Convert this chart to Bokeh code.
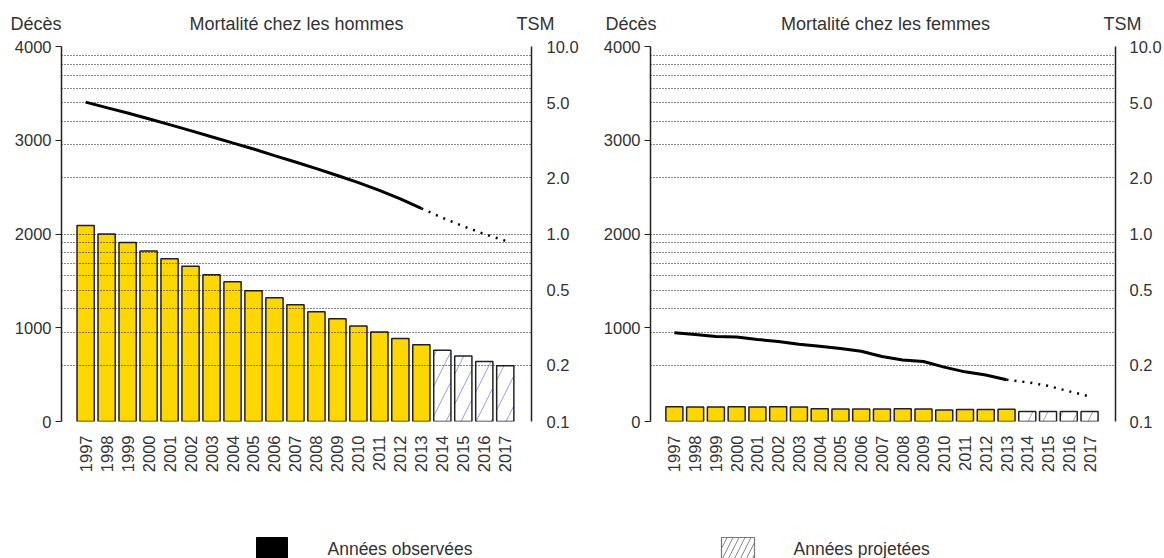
from bokeh.plotting import figure
from bokeh.models import (Range1d, LogScale, LogAxis, FixedTicker,
                          PrintfTickFormatter, Grid, ColumnDataSource)
from bokeh.layouts import column, row
from bokeh.embed import file_html
from bokeh.resources import INLINE
from bokeh.core.properties import value

# ---------------- data ----------------
years_obs = [1997, 1998, 1999, 2000, 2001, 2002, 2003, 2004, 2005, 2006, 2007,
             2008, 2009, 2010, 2011, 2012, 2013]
years_proj = [2014, 2015, 2016, 2017]
year_labels = ["1997", "1998", "1999", "2000", "2001", "2002", "2003", "2004",
               "2005", "2006", "2007", "2008", "2009", "2010", "2011", "2012",
               "2013", "2014", "2015", "2016", "2017"]

men_deaths_obs = [2090, 2000, 1910, 1820, 1735, 1655, 1565, 1490, 1395, 1320,
                  1245, 1170, 1095, 1020, 955, 885, 820]
men_deaths_proj = [760, 700, 640, 595]
men_tsm_obs = [5.05, 4.72, 4.42, 4.12, 3.83, 3.56, 3.30, 3.06, 2.84, 2.62,
               2.42, 2.23, 2.05, 1.88, 1.71, 1.54, 1.37]
men_tsm_proj = [1.22, 1.10, 1.00, 0.92]

women_deaths_obs = [157, 156, 156, 157, 156, 158, 156, 135, 133, 134, 134,
                    135, 134, 122, 128, 128, 130]
women_deaths_proj = [108, 107, 108, 107]
women_tsm_obs = [0.297, 0.291, 0.284, 0.282, 0.274, 0.267, 0.258, 0.252, 0.245,
                 0.237, 0.222, 0.213, 0.209, 0.195, 0.184, 0.177, 0.167]
women_tsm_proj = [0.162, 0.155, 0.145, 0.136]

death_ticks = [0, 1000, 2000, 3000, 4000]
tsm_ticks = [0.1, 0.2, 0.5, 1.0, 2.0, 5.0, 10.0]
grid_ticks = [0.1, 0.2, 0.3, 0.4, 0.5, 0.6, 0.7, 0.8, 0.9,
              1, 2, 3, 4, 5, 6, 7, 8, 9, 10]

titles = ["Mortalité chez les hommes", "Mortalité chez les femmes"]
left_header = "Décès"
right_header = "TSM"
legend_labels = ["Années observées", "Années projetées"]

FONT = "Liberation Sans"
TXT = "#333333"
GOLD = "#FFD700"
W, H = 1164, 558
HEAD_H, CHART_H, LEG_H = 36, 447, 75


def make_chart(d_obs, d_proj, t_obs, t_proj, width, left_border, right_border,
               right_standoff):
    p = figure(width=width, height=CHART_H,
               x_range=Range1d(1995.85, 2018.25), y_range=Range1d(0, 4000),
               output_backend="svg", toolbar_location=None,
               min_border_left=left_border, min_border_right=right_border,
               min_border_top=10, min_border_bottom=62)
    p.outline_line_color = None
    p.xgrid.visible = False
    p.ygrid.visible = False
    p.extra_y_ranges = {"tsm": Range1d(0.1, 10)}
    p.extra_y_scales = {"tsm": LogScale()}

    # bars
    src_o = ColumnDataSource(dict(x=years_obs, top=d_obs))
    src_p = ColumnDataSource(dict(x=years_proj, top=d_proj))
    p.vbar(x="x", top="top", bottom=0, width=0.82, source=src_o,
           fill_color=GOLD, line_color="#2a1f12", line_width=1.5)
    p.vbar(x="x", top="top", bottom=0, width=0.82, source=src_p,
           fill_color="white", line_color="#222222", line_width=1.5,
           hatch_pattern="/", hatch_color="#9f9ff0", hatch_scale=30,
           hatch_weight=1)

    # log grid on the TSM scale, drawn over the bars
    g = Grid(dimension=1, ticker=FixedTicker(ticks=grid_ticks),
             y_range_name="tsm", grid_line_color="#111111",
             grid_line_dash="1 2", grid_line_width=1, level="annotation")
    p.add_layout(g)

    # TSM lines
    p.line(x=years_obs, y=t_obs, y_range_name="tsm", line_color="black",
           line_width=3)
    p.line(x=[years_obs[-1]] + years_proj, y=[t_obs[-1]] + t_proj,
           y_range_name="tsm", line_color="black", line_width=2.5,
           line_dash="2 6")

    # left axis (deaths)
    ax = p.yaxis[0]
    ax.ticker = FixedTicker(ticks=death_ticks)
    ax.axis_line_color = "#222222"
    ax.axis_line_width = 1.5
    ax.major_tick_line_color = "#222222"
    ax.major_tick_out = 6
    ax.major_tick_in = 0
    ax.minor_tick_line_color = None
    ax.major_label_standoff = 4
    ax.major_label_text_font = FONT
    ax.major_label_text_font_size = "16.5px"
    ax.major_label_text_color = TXT

    # right axis (TSM, log)
    rax = LogAxis(y_range_name="tsm", ticker=FixedTicker(ticks=tsm_ticks),
                  formatter=PrintfTickFormatter(format="%.1f"))
    rax.axis_line_color = "#222222"
    rax.axis_line_width = 1.5
    rax.major_tick_line_color = None
    rax.minor_tick_line_color = None
    rax.major_label_standoff = right_standoff
    rax.major_label_text_font = FONT
    rax.major_label_text_font_size = "16.5px"
    rax.major_label_text_color = TXT
    p.add_layout(rax, "right")

    # x axis (years)
    all_years = years_obs + years_proj
    xa = p.xaxis[0]
    xa.ticker = FixedTicker(ticks=all_years)
    xa.major_label_overrides = {y: s for y, s in zip(all_years, year_labels)}
    xa.axis_line_color = None
    xa.major_tick_line_color = None
    xa.minor_tick_line_color = None
    xa.major_label_orientation = 3.14159265 / 2
    xa.major_label_standoff = 8
    xa.major_label_text_font = FONT
    xa.major_label_text_font_size = "16.5px"
    xa.major_label_text_color = TXT
    return p


p1 = make_chart(men_deaths_obs, men_deaths_proj, men_tsm_obs, men_tsm_proj,
                597, 61, 66, 9)
p2 = make_chart(women_deaths_obs, women_deaths_proj, women_tsm_obs,
                women_tsm_proj, W - 597, 53, 44, 8)

# header strip (pixel coordinates, y measured up from the strip bottom)
head = figure(width=W, height=HEAD_H, x_range=Range1d(0, W),
              y_range=Range1d(0, HEAD_H), output_backend="svg",
              toolbar_location=None, min_border=0)
head.axis.visible = False
head.grid.visible = False
head.outline_line_color = None
hkw = dict(text_font=value(FONT), text_font_size="18px", text_color=TXT,
           text_baseline="middle")
head.text(x=[10, 605], y=[13, 13], text=[left_header, left_header],
          text_align="left", **hkw)
head.text(x=[296, 885], y=[13, 13], text=titles, text_align="center", **hkw)
head.text(x=[554, 1141], y=[13, 13], text=[right_header, right_header],
          text_align="right", **hkw)

# legend strip (pixel coordinates)
leg = figure(width=W, height=LEG_H, x_range=Range1d(0, W),
             y_range=Range1d(0, LEG_H), output_backend="svg",
             toolbar_location=None, min_border=0)
leg.axis.visible = False
leg.grid.visible = False
leg.outline_line_color = None
leg.quad(left=[256], right=[287], top=[21], bottom=[-12], fill_color="black",
         line_color="black")
leg.quad(left=[721], right=[754], top=[21], bottom=[-12], fill_color="white",
         line_color="#777777", line_width=1.2, hatch_pattern="/",
         hatch_color="#888888", hatch_scale=12, hatch_weight=1)
leg.text(x=[327, 793], y=[10, 10], text=legend_labels, text_font=value(FONT),
         text_font_size="17.5px", text_color=TXT, text_baseline="middle",
         text_align="left")

layout = column(head, row(p1, p2), leg)
open("out.html", "w").write(file_html(layout, INLINE))
